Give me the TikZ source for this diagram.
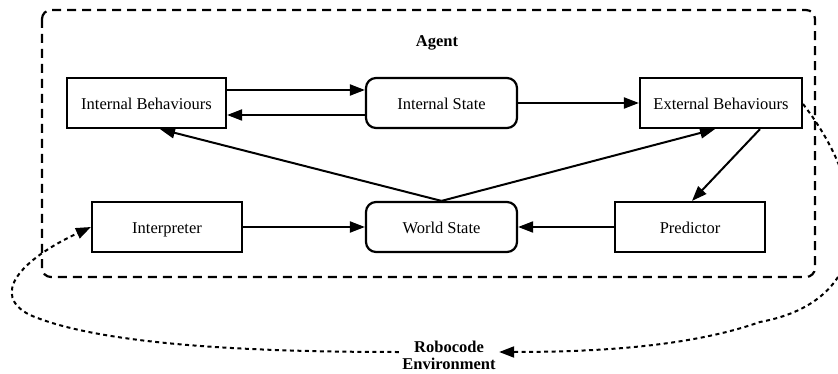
\documentclass[tikz,border=0pt]{standalone}
\usepackage{fontspec}
\setmainfont{Liberation Serif}
\usetikzlibrary{arrows.meta}
\begin{document}
\begin{tikzpicture}[x=1pt,y=-1pt,
  every node/.style={font=\fontsize{16.5}{19}\selectfont},
  sq/.style={draw, line width=2.2pt, minimum width=150pt, minimum height=50pt, inner sep=0pt, text height=14pt, text depth=1pt},
  rd/.style={sq, rounded corners=10pt},
  arr/.style={line width=2pt, -{Triangle[length=15pt,width=11pt]}},
  env/.style={line width=2pt, dash pattern=on 4pt off 3.5pt, -{Triangle[length=15pt,width=11pt]}},
  lbl/.style={font=\fontsize{16.5}{17}\selectfont\bfseries, align=center}]
\useasboundingbox (0,0) rectangle (838,374);
\draw[line width=2.2pt, dash pattern=on 9pt off 6pt, rounded corners=9pt] (42,10) rectangle (815,277);
\node[lbl] (agent) at (437,43) {Agent};
\node[sq, minimum width=159pt] (ib) at (146.5,103) {Internal Behaviours};
\node[rd, minimum width=151pt] (is) at (441.5,103) {Internal State};
\node[sq, minimum width=162pt] (eb) at (721,103) {External Behaviours};
\node[sq] (ip) at (167,227) {Interpreter};
\node[rd, minimum width=151pt] (ws) at (441.5,227) {World State};
\node[sq] (pr) at (690,227) {Predictor};
\node[lbl] (env) at (449,355) {Robocode\\Environment};
\draw[arr] (ib.east |- 0,90) -- (is.west |- 0,90);
\draw[arr] (is.west |- 0,115) -- (ib.east |- 0,115);
\draw[arr] (is) -- (eb);
\draw[arr] (ws.north) -- (ib.south -| 160,0);
\draw[arr] (ws.north) -- (eb.south -| 715,0);
\draw[arr] (eb.south -| 760,0) -- (pr.north -| 692,0);
\draw[arr] (ip) -- (ws);
\draw[arr] (pr) -- (ws);
\coordinate (a1) at (803,104);
\draw[env] (a1) .. controls (870,190) and (880,300) .. (760,322) .. controls (700,343) and (620,352) .. (env.east |- 0,352);
\draw[env] (env.west |- 0,352) .. controls (250,352) and (100,345) .. (30,315) .. controls (-10,295) and (20,260) .. (ip.west);
\end{tikzpicture}
\end{document}
